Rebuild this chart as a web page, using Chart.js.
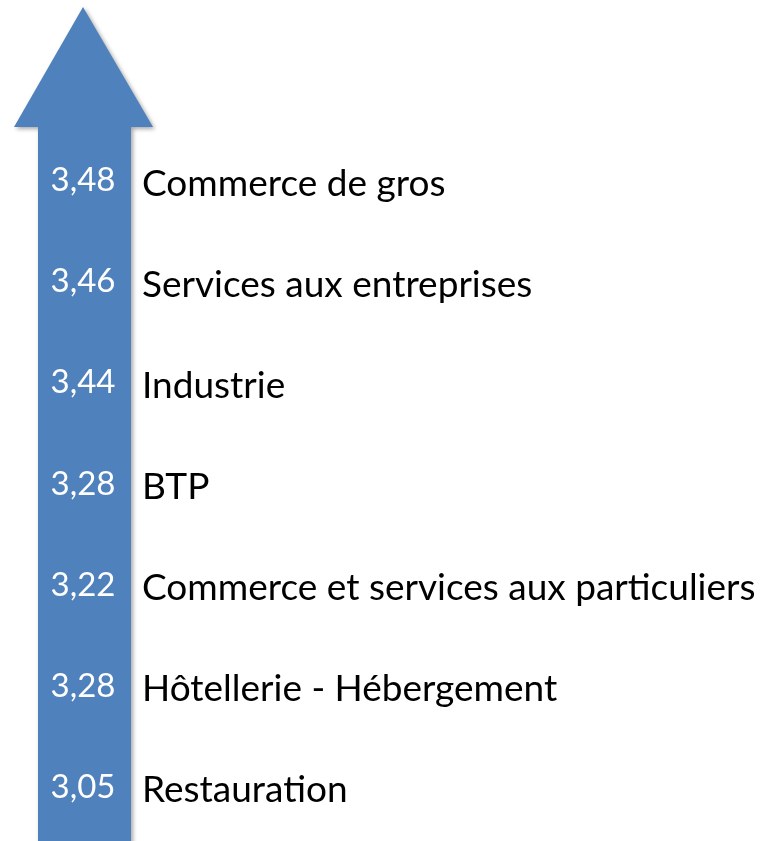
<!DOCTYPE html>
<html>
<head>
<meta charset="utf-8">
<script src="https://cdn.jsdelivr.net/npm/chart.js@4"></script>
<style>
  body { margin: 0; background: #fff; }
  #wrap { width: 764px; height: 841px; }
</style>
</head>
<body>
<div id="wrap"><canvas id="arrowChart"></canvas></div>
<script>
let categories = [
    'Commerce de gros',
    'Services aux entreprises',
    'Industrie',
    'BTP',
    'Commerce et services aux particuliers',
    'Hôtellerie - Hébergement',
    'Restauration'
];
let values = [ 3.48, 3.46, 3.44, 3.28, 3.22, 3.28, 3.05 ];

let arrowBlue = '#4f81bd';

// draws the big arrow behind everything
let arrowPlugin = {
    id: 'arrow',
    beforeDatasetsDraw(chart) {
        let ctx = chart.ctx;
        let top = chart.chartArea.top;
        ctx.save();
        ctx.shadowColor = 'rgba(0,0,0,0.35)';
        ctx.shadowBlur = 4;
        ctx.shadowOffsetX = 2;
        ctx.shadowOffsetY = 2;
        ctx.fillStyle = arrowBlue;
        ctx.beginPath();
        ctx.moveTo(83, 7);
        ctx.lineTo(153, top - 6);
        ctx.lineTo(131, top - 6);
        ctx.lineTo(131, chart.height + 10);
        ctx.lineTo(38, chart.height + 10);
        ctx.lineTo(38, top - 6);
        ctx.lineTo(14, top - 6);
        ctx.closePath();
        ctx.fill();
        ctx.restore();
    }
};

// white value labels on the arrow shaft
let valueLabels = {
    id: 'valueLabels',
    afterDatasetsDraw(chart) {
        let ctx = chart.ctx;
        let meta = chart.getDatasetMeta(0);
        ctx.save();
        ctx.fillStyle = '#ffffff';
        ctx.font = '33px Lato';
        ctx.textAlign = 'center';
        ctx.textBaseline = 'middle';
        meta.data.forEach((bar, i) => {
            let txt = values[i].toFixed(2).replace('.', ',');
            ctx.fillText(txt, 83, bar.y - 3);
        });
        ctx.restore();
    }
};

new Chart(document.getElementById('arrowChart'), {
    type: 'bar',
    data: {
        labels: categories,
        datasets: [{
            data: values,
            backgroundColor: 'rgba(0,0,0,0)',
            borderWidth: 0
        }]
    },
    options: {
        indexAxis: 'y',
        responsive: true,
        maintainAspectRatio: false,
        animation: false,
        events: [],
        layout: {
            padding: { left: 131, top: 133, right: 0, bottom: 0 }
        },
        plugins: {
            legend: { display: false },
            tooltip: { enabled: false }
        },
        scales: {
            x: {
                display: false,
                min: 0,
                max: 4
            },
            y: {
                position: 'left',
                grid: { display: false },
                border: { display: false },
                afterFit(scale) {
                    scale.width = 0;
                    scale.paddingTop = 0;
                    scale.paddingBottom = 0;
                },
                ticks: {
                    mirror: true,
                    padding: 11,
                    color: '#000000',
                    font: { family: 'Lato', size: 37 }
                }
            }
        }
    },
    plugins: [ arrowPlugin, valueLabels ]
});
</script>
</body>
</html>
